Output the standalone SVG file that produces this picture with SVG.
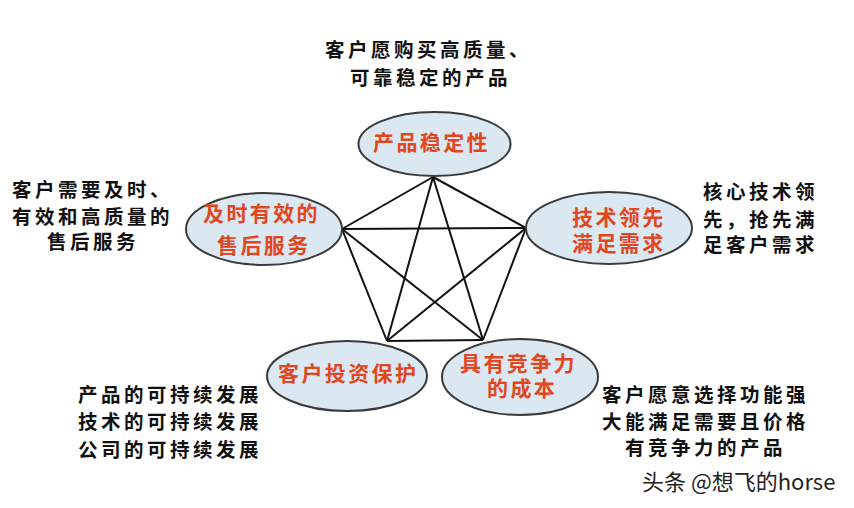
<svg xmlns="http://www.w3.org/2000/svg" width="854" height="508" viewBox="0 0 854 508">
<style>
.bg{fill:#ffffff}
.edge{stroke:#111;stroke-width:2;fill:none}
.node ellipse{fill:#dbe8f2;stroke:#3a3a3a;stroke-width:2}
.nt{font-family:"Noto Sans CJK SC","Liberation Sans",sans-serif;font-size:21px;font-weight:bold;fill:#e2461e;letter-spacing:2.4px}
.note{font-family:"Noto Sans CJK SC","Liberation Sans",sans-serif;font-size:19.5px;font-weight:bold;fill:#111;letter-spacing:3.5px}
.wm{font-family:"Noto Sans CJK SC","Liberation Sans",sans-serif;font-size:22px;fill:#222;stroke:#fff;stroke-width:2;paint-order:stroke}
</style>
<rect class="bg" x="0" y="0" width="854" height="508"/>
<g id="connectors">
<line class="edge" x1="433" y1="177" x2="342" y2="229"/>
<line class="edge" x1="433" y1="177" x2="526" y2="228"/>
<line class="edge" x1="433" y1="177" x2="387" y2="341"/>
<line class="edge" x1="433" y1="177" x2="483" y2="340"/>
<line class="edge" x1="342" y1="229" x2="526" y2="228"/>
<line class="edge" x1="342" y1="229" x2="387" y2="341"/>
<line class="edge" x1="342" y1="229" x2="483" y2="340"/>
<line class="edge" x1="526" y1="228" x2="387" y2="341"/>
<line class="edge" x1="526" y1="228" x2="483" y2="340"/>
<line class="edge" x1="387" y1="341" x2="483" y2="340"/>
</g>
<g id="node-stability" class="node">
<ellipse cx="434.5" cy="144" rx="76" ry="32"/>
<text class="nt" x="373" y="150">产品稳定性</text>
</g>
<g id="node-service" class="node">
<ellipse cx="264" cy="229" rx="78" ry="36"/>
<text class="nt" x="203" y="221">及时有效的</text>
<text class="nt" x="217" y="253">售后服务</text>
</g>
<g id="node-tech" class="node">
<ellipse cx="609" cy="228" rx="83" ry="36"/>
<text class="nt" x="572" y="225">技术领先</text>
<text class="nt" x="572" y="251">满足需求</text>
</g>
<g id="node-invest" class="node">
<ellipse cx="347" cy="376" rx="80" ry="35"/>
<text class="nt" x="278" y="381">客户投资保护</text>
</g>
<g id="node-cost" class="node">
<ellipse cx="520" cy="377" rx="78" ry="38"/>
<text class="nt" x="460" y="371">具有竞争力</text>
<text class="nt" x="487" y="396">的成本</text>
</g>
<g id="notes">
<text class="note" x="325" y="57">客户愿购买高质量、</text>
<text class="note" x="350" y="85">可靠稳定的产品</text>
<text class="note" x="12" y="197">客户需要及时、</text>
<text class="note" x="12" y="224">有效和高质量的</text>
<text class="note" x="47" y="249">售后服务</text>
<text class="note" x="703" y="199">核心技术领</text>
<text class="note" x="703" y="227">先，抢先满</text>
<text class="note" x="703" y="252">足客户需求</text>
<text class="note" x="78" y="402">产品的可持续发展</text>
<text class="note" x="78" y="429">技术的可持续发展</text>
<text class="note" x="78" y="457">公司的可持续发展</text>
<text class="note" x="602" y="402">客户愿意选择功能强</text>
<text class="note" x="602" y="429">大能满足需要且价格</text>
<text class="note" x="625" y="455">有竞争力的产品</text>
</g>
<text class="wm" x="642" y="490">头条 @想飞的horse</text>
</svg>
